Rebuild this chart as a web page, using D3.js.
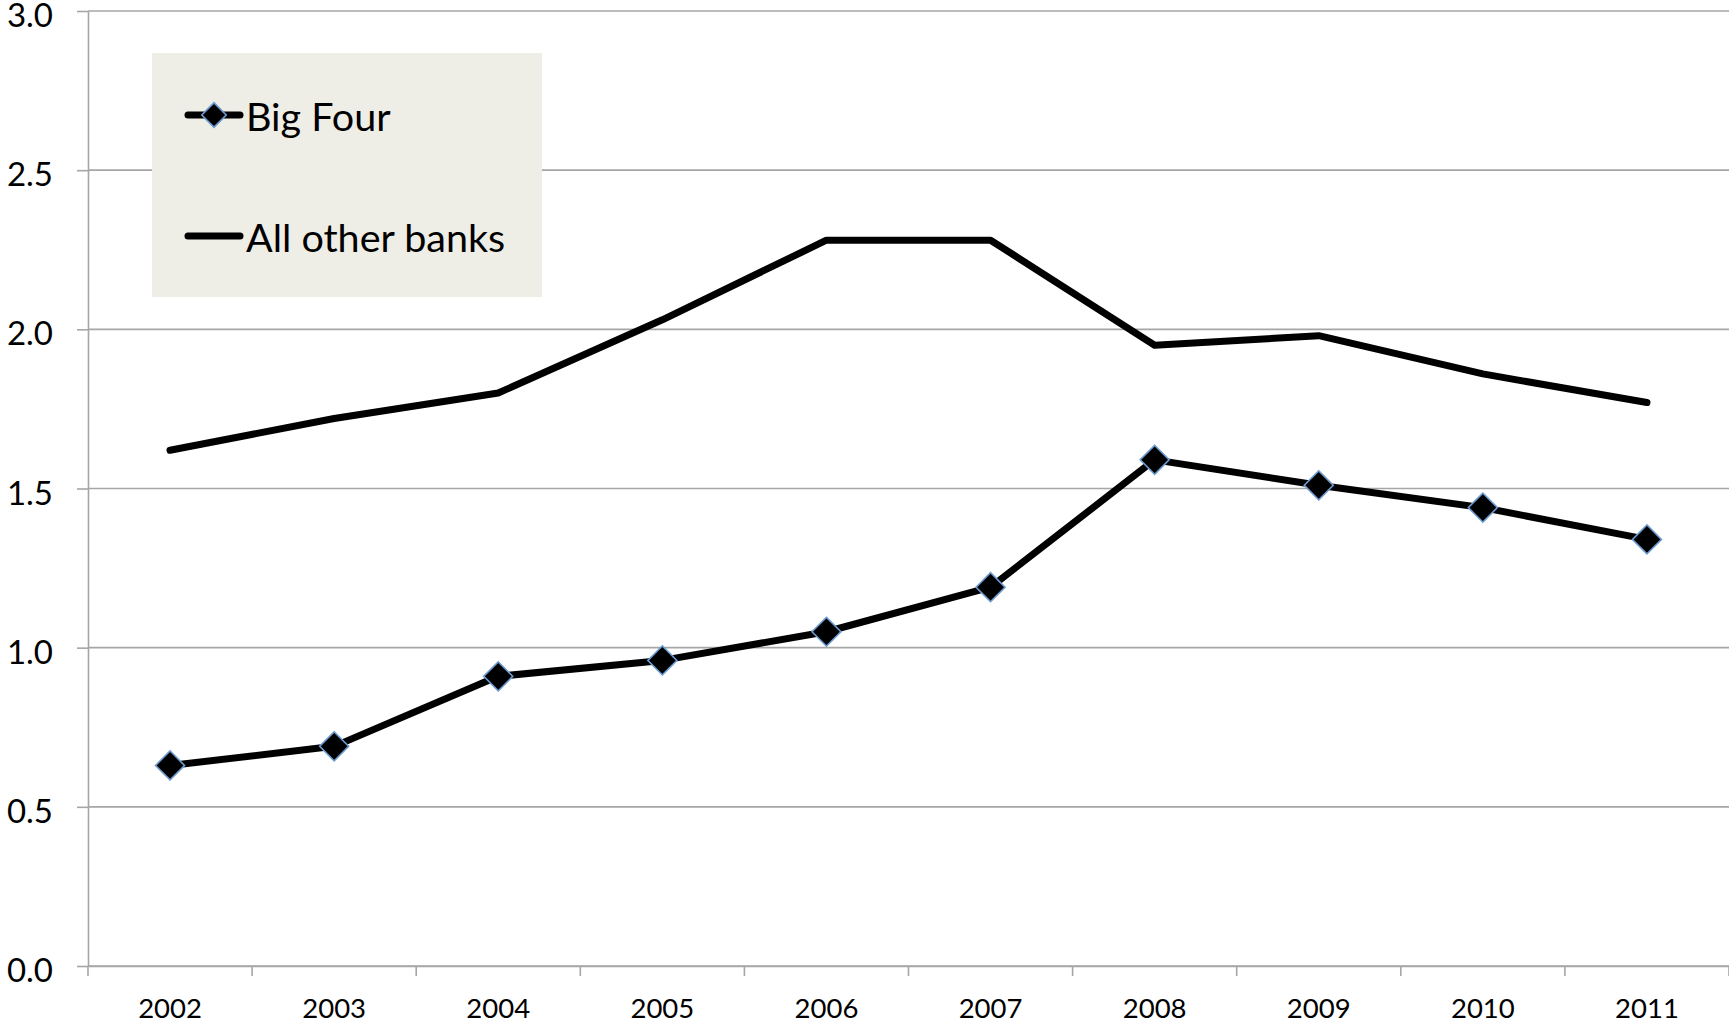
<!DOCTYPE html>
<html>
<head>
<meta charset="utf-8">
<script src="https://cdn.jsdelivr.net/npm/d3@7"></script>
<style>
  html, body { margin: 0; padding: 0; background: #fff; }
  svg { display: block; }
  text { font-family: Lato, "Open Sans", sans-serif; fill: #000; }
</style>
</head>
<body>
<svg id="chart" width="1729" height="1023"></svg>
<script>
// Years on the horizontal axis
const years = ["2002", "2003", "2004", "2005", "2006", "2007", "2008", "2009", "2010", "2011"];
// Series values
const bigFour = [0.63, 0.69, 0.91, 0.96, 1.05, 1.19, 1.59, 1.51, 1.44, 1.34];
const otherBanks = [1.62, 1.72, 1.80, 2.03, 2.28, 2.28, 1.95, 1.98, 1.86, 1.77];
// Y tick labels
const yTicks = [0, 0.5, 1.0, 1.5, 2.0, 2.5, 3.0];
const seriesNames = ["Big Four", "All other banks"];

const svg = d3.select("#chart");
const plotLeft = 88, plotRight = 1729, plotTop = 11, plotBottom = 966;

const x = d3.scaleBand().domain(years).range([plotLeft, plotRight]).padding(0);
const y = d3.scaleLinear().domain([0, 3]).range([plotBottom, plotTop]);
const cx = d => x(d) + x.bandwidth() / 2;

const gridColor = "#a6a6a6";

// Horizontal gridlines
svg.append("g")
  .selectAll("line")
  .data(yTicks)
  .join("line")
  .attr("x1", plotLeft).attr("x2", plotRight)
  .attr("y1", d => y(d)).attr("y2", d => y(d))
  .attr("stroke", gridColor).attr("stroke-width", 1.6);

// Y axis
const yAxis = svg.append("g")
  .attr("transform", `translate(${plotLeft},0)`)
  .call(d3.axisLeft(y).tickValues(yTicks).tickFormat(d3.format(".1f"))
    .tickSize(11).tickSizeOuter(0).tickPadding(24));
yAxis.select(".domain").attr("stroke", gridColor).attr("stroke-width", 1.6);
yAxis.selectAll(".tick line").attr("stroke", gridColor).attr("stroke-width", 1.6);
yAxis.selectAll(".tick text")
  .style("font-size", "33px").style("font-family", "Lato, sans-serif")
  .attr("fill", "#000").attr("dy", "0.47em");

// X axis (labels centred on categories, ticks on category boundaries)
const xAxis = svg.append("g")
  .attr("transform", `translate(0,${plotBottom})`)
  .call(d3.axisBottom(x).tickSize(0).tickSizeOuter(0).tickPadding(32));
xAxis.select(".domain").attr("stroke", gridColor).attr("stroke-width", 1.6);
xAxis.selectAll(".tick text").style("font-size", "27.5px").style("font-family", "Lato, sans-serif").attr("fill", "#000");

const boundaries = years.map(d => x(d)).concat([x(years[years.length - 1]) + x.bandwidth()]);
xAxis.append("g")
  .selectAll("line")
  .data(boundaries)
  .join("line")
  .attr("x1", d => d).attr("x2", d => d)
  .attr("y1", 0).attr("y2", 10)
  .attr("stroke", gridColor).attr("stroke-width", 1.6);

// Series lines
const line = d3.line().x(d => cx(d[0])).y(d => y(d[1]));

svg.append("path")
  .datum(years.map((yr, i) => [yr, otherBanks[i]]))
  .attr("d", line)
  .attr("fill", "none").attr("stroke", "#000").attr("stroke-width", 7)
  .attr("stroke-linejoin", "round").attr("stroke-linecap", "round");

svg.append("path")
  .datum(years.map((yr, i) => [yr, bigFour[i]]))
  .attr("d", line)
  .attr("fill", "none").attr("stroke", "#000").attr("stroke-width", 7)
  .attr("stroke-linejoin", "round").attr("stroke-linecap", "round");

// Diamond markers for Big Four
const diamond = d3.symbol().type(d3.symbolSquare).size(420);
svg.append("g")
  .selectAll("path")
  .data(years.map((yr, i) => [yr, bigFour[i]]))
  .join("path")
  .attr("d", diamond)
  .attr("transform", d => `translate(${cx(d[0])},${y(d[1])}) rotate(45)`)
  .attr("fill", "#000").attr("stroke", "#6b9bd0").attr("stroke-width", 1.6);

// Legend
const legend = svg.append("g");
legend.append("rect")
  .attr("x", 152).attr("y", 53).attr("width", 390).attr("height", 244)
  .attr("fill", "#eeede6");

const legendRows = [115, 236];
legendRows.forEach((ly, i) => {
  legend.append("line")
    .attr("x1", 188).attr("x2", 240).attr("y1", ly).attr("y2", ly)
    .attr("stroke", "#000").attr("stroke-width", 7).attr("stroke-linecap", "round");
  if (i === 0) {
    legend.append("path")
      .attr("d", d3.symbol().type(d3.symbolSquare).size(300))
      .attr("transform", `translate(214,${ly}) rotate(45)`)
      .attr("fill", "#000").attr("stroke", "#6b9bd0").attr("stroke-width", 1.6);
  }
  legend.append("text")
    .attr("x", 246).attr("y", ly)
    .attr("dy", "0.4em")
    .style("font-size", "39.5px")
    .text(seriesNames[i]);
});
</script>
</body>
</html>
